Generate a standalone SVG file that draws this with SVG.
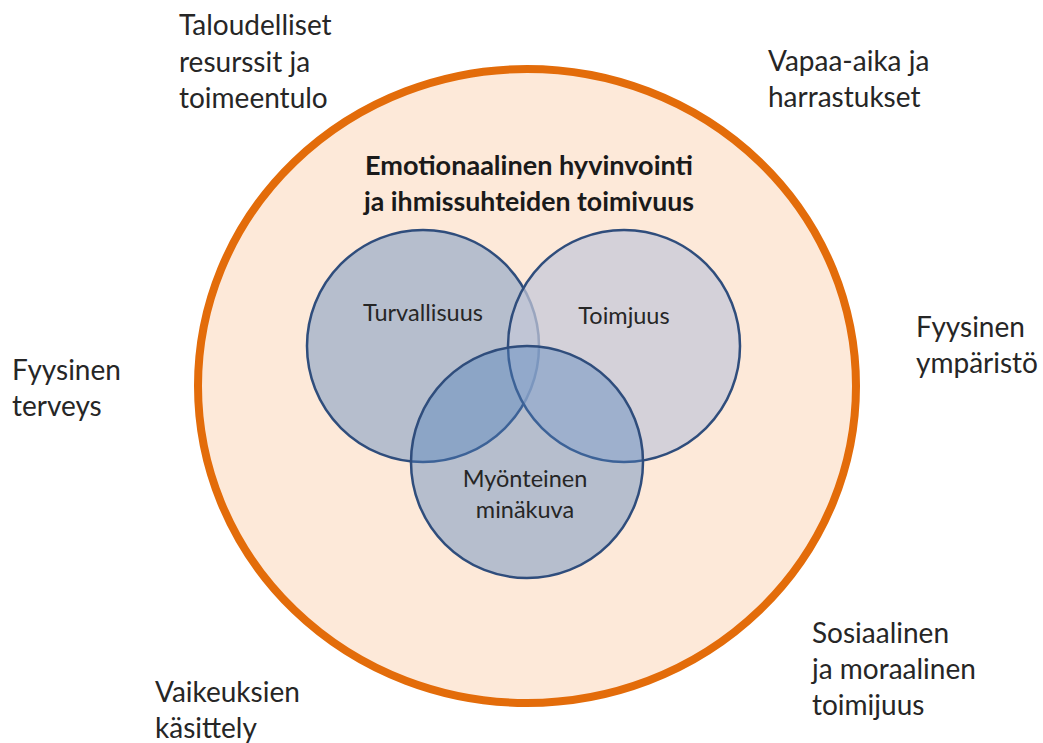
<svg xmlns="http://www.w3.org/2000/svg" width="1043" height="743" viewBox="0 0 1043 743">
<style>
.t{font-family:Lato,"Open Sans","Liberation Sans",sans-serif;font-size:28px;fill:#262626}
.v{font-family:Lato,"Open Sans","Liberation Sans",sans-serif;font-size:23.5px;fill:#262626;text-anchor:middle}
.b{font-family:Lato,"Open Sans","Liberation Sans",sans-serif;font-size:27px;font-weight:bold;fill:#1a1a1a;text-anchor:middle}
.c{stroke:#2f4d7c;stroke-width:2.5}
</style>
<rect width="1043" height="743" fill="#ffffff"/>
<g id="outer">
<ellipse cx="527" cy="386" rx="329" ry="317" fill="#fde9d9" stroke="#e36c0a" stroke-width="8"/>
</g>
<g id="title">
<text class="b" x="529" y="175" textLength="328" lengthAdjust="spacingAndGlyphs">Emotionaalinen hyvinvointi</text>
<text class="b" x="529" y="211" textLength="330" lengthAdjust="spacingAndGlyphs">ja ihmissuhteiden toimivuus</text>
</g>
<g id="turvallisuus">
<circle class="c" cx="423" cy="346" r="116" fill="#4f81bd" fill-opacity="0.41"/>
</g>
<g id="toimjuus">
<circle class="c" cx="624" cy="346" r="116" fill="#c4c8d8" fill-opacity="0.72"/>
</g>
<g id="myonteinen">
<circle class="c" cx="527" cy="462" r="116" fill="#4f81bd" fill-opacity="0.41"/>
</g>
<g id="venn-labels">
<text class="v" x="423" y="321">Turvallisuus</text>
<text class="v" x="624" y="324">Toimjuus</text>
<text class="v" x="525" y="487">Myönteinen</text>
<text class="v" x="525" y="518">minäkuva</text>
</g>
<g id="talous">
<text class="t" x="179" y="35">Taloudelliset</text>
<text class="t" x="179" y="72">resurssit ja</text>
<text class="t" x="179" y="108">toimeentulo</text>
</g>
<g id="vapaa-aika">
<text class="t" x="768" y="71">Vapaa-aika ja</text>
<text class="t" x="768" y="107">harrastukset</text>
</g>
<g id="fyysinen-terveys">
<text class="t" x="12" y="380">Fyysinen</text>
<text class="t" x="12" y="416">terveys</text>
</g>
<g id="fyysinen-ymparisto">
<text class="t" x="916" y="337">Fyysinen</text>
<text class="t" x="916" y="373">ympäristö</text>
</g>
<g id="sosiaalinen">
<text class="t" x="812" y="643">Sosiaalinen</text>
<text class="t" x="812" y="679">ja moraalinen</text>
<text class="t" x="812" y="715">toimijuus</text>
</g>
<g id="vaikeuksien">
<text class="t" x="155" y="702">Vaikeuksien</text>
<text class="t" x="155" y="738">käsittely</text>
</g>
<g id="connectors"></g>
</svg>
